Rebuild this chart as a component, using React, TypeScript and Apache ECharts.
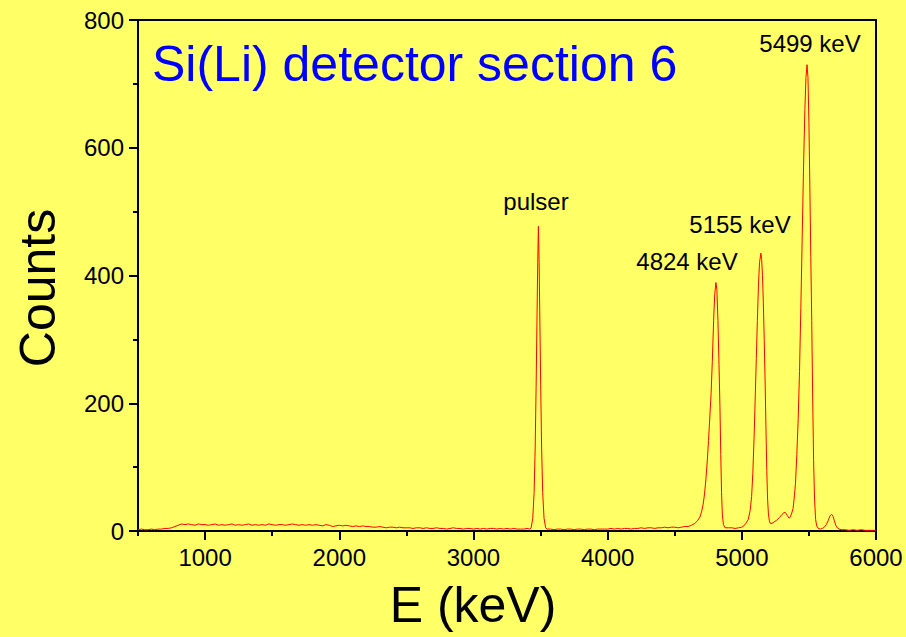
import React, { useEffect, useRef } from 'react';
import * as echarts from 'echarts';

// Spectrum: [energy keV, counts]
const continuumLow: [number, number][] = [
  [500, 2], [525, 3], [550, 2], [575, 2], [600, 3], [625, 2], [650, 3], [675, 3], [700, 4], [725, 4],
  [750, 5], [775, 7], [800, 9], [825, 11], [850, 10], [875, 11], [900, 10], [925, 9], [950, 11], [975, 10],
  [1000, 10], [1025, 9], [1050, 10], [1075, 11], [1100, 9], [1125, 10], [1150, 9], [1175, 10], [1200, 11], [1225, 9],
  [1250, 10], [1275, 9], [1300, 10], [1325, 11], [1350, 9], [1375, 10], [1400, 9], [1425, 10], [1450, 9], [1475, 11],
  [1500, 10], [1525, 9], [1550, 10], [1575, 10], [1600, 9], [1625, 10], [1650, 11], [1675, 10], [1700, 9], [1725, 10],
  [1750, 9], [1775, 10], [1800, 9], [1825, 10], [1850, 9], [1875, 8], [1900, 10], [1925, 9], [1950, 7], [1975, 8],
  [2000, 9], [2025, 8], [2050, 9], [2075, 8], [2100, 7], [2125, 8], [2150, 7], [2175, 8], [2200, 7], [2225, 7],
  [2250, 6], [2275, 6], [2300, 7], [2325, 6], [2350, 5], [2375, 6], [2400, 6], [2425, 5], [2450, 6], [2475, 5],
  [2500, 5], [2525, 5], [2550, 4], [2575, 5], [2600, 5], [2625, 4], [2650, 5], [2675, 4], [2700, 4], [2725, 5],
  [2750, 4], [2775, 4], [2800, 3], [2825, 4], [2850, 5], [2875, 4], [2900, 4], [2925, 3], [2950, 4], [2975, 4],
  [3000, 3], [3025, 4], [3050, 3], [3075, 4], [3100, 3], [3125, 4], [3150, 4], [3175, 3], [3200, 4], [3225, 3],
  [3250, 4], [3275, 3], [3300, 4], [3325, 3], [3350, 3], [3375, 3], [3400, 4]
];

const pulserPeak: [number, number][] = [
  [3420, 3], [3430, 5], [3442, 20], [3452, 60], [3460, 130], [3467, 225], [3474, 340], [3479, 420],
  [3484, 477], [3489, 425], [3494, 345], [3501, 230], [3508, 130], [3516, 60], [3526, 20], [3538, 5], [3550, 3]
];

const midContinuum: [number, number][] = [
  [3575, 3], [3600, 2], [3625, 3], [3650, 3], [3675, 2], [3700, 3], [3725, 3], [3750, 2], [3775, 3], [3800, 3],
  [3825, 2], [3850, 3], [3875, 3], [3900, 2], [3925, 3], [3950, 3], [3975, 3], [4000, 3], [4025, 4], [4050, 3],
  [4075, 4], [4100, 3], [4125, 4], [4150, 4], [4175, 3], [4200, 4], [4225, 4], [4250, 5], [4275, 4], [4300, 5],
  [4325, 5], [4350, 4], [4375, 5], [4400, 5], [4425, 6], [4450, 5], [4475, 6], [4500, 6], [4525, 5], [4550, 6],
  [4575, 7], [4600, 7]
];

const peak4824: [number, number][] = [
  [4625, 9], [4650, 12], [4670, 16], [4688, 22], [4700, 30], [4712, 42], [4722, 58], [4732, 80], [4742, 108],
  [4752, 142], [4762, 180], [4771, 215], [4780, 265], [4790, 330], [4798, 370], [4807, 389], [4814, 378],
  [4822, 330], [4830, 260], [4837, 195], [4843, 120], [4849, 60], [4855, 25], [4863, 10], [4875, 5]
];

const peak5155: [number, number][] = [
  [4900, 5], [4925, 5], [4950, 4], [4975, 5], [5000, 6], [5015, 8], [5030, 12], [5048, 18], [5062, 32],
  [5073, 54], [5082, 90], [5092, 150], [5100, 210], [5108, 270], [5116, 330], [5124, 385], [5132, 420],
  [5142, 435], [5148, 425], [5154, 400], [5160, 360], [5167, 300], [5174, 230], [5180, 160], [5186, 95],
  [5192, 50], [5198, 28], [5205, 16], [5212, 12], [5225, 12], [5240, 14], [5260, 17], [5280, 21], [5300, 26],
  [5315, 29], [5325, 29], [5340, 24], [5352, 20], [5362, 22], [5372, 28], [5382, 35]
];

const peak5499: [number, number][] = [
  [5392, 55], [5400, 75], [5410, 120], [5420, 175], [5430, 250], [5440, 350], [5450, 460], [5460, 570],
  [5470, 660], [5478, 710], [5486, 730], [5493, 710], [5500, 640], [5507, 540], [5514, 430], [5521, 330],
  [5528, 210], [5535, 110], [5542, 50], [5550, 18], [5558, 8], [5570, 4], [5585, 3]
];

const satellitePeak: [number, number][] = [
  [5600, 4], [5615, 6], [5630, 10], [5645, 17], [5658, 24], [5670, 26], [5680, 23], [5690, 16], [5700, 9],
  [5712, 5], [5725, 3], [5740, 2], [5770, 2], [5800, 1], [5830, 2], [5860, 1], [5890, 2], [5920, 1],
  [5950, 1], [5980, 1], [6000, 1]
];

const xMajorTicks = [1000, 2000, 3000, 4000, 5000, 6000];
const titleText = 'Si(Li) detector section 6';
const xAxisName = 'E (keV)';
const yAxisName = 'Counts';
const peakLabels = ['pulser', '4824 keV', '5155 keV', '5499 keV'];

export default function App() {
  const ref = useRef<HTMLDivElement>(null);

  useEffect(() => {
    if (!ref.current) return;
    const chart = echarts.init(ref.current, null, { renderer: 'svg' });
    const spectrum = [
      ...continuumLow, ...pulserPeak, ...midContinuum, ...peak4824,
      ...peak5155, ...peak5499, ...satellitePeak
    ];
    const font = '"Liberation Sans", Arial, sans-serif';
    const black = '#000000';
    const labelPos = [
      [536, 201], [687, 261], [740, 224], [810, 43]
    ];

    chart.setOption({
      animation: false,
      backgroundColor: '#ffff66',
      grid: {
        left: 138, right: 30, top: 20, bottom: 106,
        show: true, borderColor: black, borderWidth: 2, backgroundColor: 'transparent'
      },
      xAxis: [
        {
          type: 'value', min: 500, max: 6000, interval: 500, position: 'bottom',
          axisLine: { show: true, onZero: false, lineStyle: { color: black, width: 2 } },
          axisTick: { show: true, inside: false, length: 5, lineStyle: { color: black, width: 2 } },
          axisLabel: {
            show: true, margin: 14, fontSize: 24, color: black, fontFamily: font,
            formatter: (v: number) => (v % 1000 === 0 ? String(v) : '')
          },
          splitLine: { show: false }
        },
        {
          type: 'value', min: 500, max: 6000, position: 'bottom', gridIndex: 0,
          axisLine: { show: false },
          axisTick: { show: true, customValues: xMajorTicks, length: 9, lineStyle: { color: black, width: 2 } },
          axisLabel: { show: false },
          splitLine: { show: false }
        }
      ],
      yAxis: {
        type: 'value', min: 0, max: 800, interval: 200,
        axisLine: { show: true, lineStyle: { color: black, width: 2 } },
        axisTick: { show: true, length: 9, lineStyle: { color: black, width: 2 } },
        minorTick: { show: true, splitNumber: 2, length: 5, lineStyle: { color: black, width: 2 } },
        axisLabel: { margin: 14, fontSize: 24, color: black, fontFamily: font },
        splitLine: { show: false },
        minorSplitLine: { show: false }
      },
      series: [
        {
          type: 'line',
          xAxisIndex: 0,
          data: spectrum,
          showSymbol: false,
          symbol: 'none',
          lineStyle: { color: '#ff0000', width: 1 },
          clip: true,
          z: 3
        }
      ],
      graphic: [
        {
          type: 'text', x: 152, y: 64,
          style: { text: titleText, fontSize: 50, fontFamily: font, fill: '#0000ff', align: 'left', verticalAlign: 'middle' }
        },
        {
          type: 'text', x: 38, y: 288, rotation: Math.PI / 2,
          style: { text: yAxisName, fontSize: 50, fontFamily: font, fill: black, align: 'center', verticalAlign: 'middle' }
        },
        {
          type: 'text', x: 473, y: 605,
          style: { text: xAxisName, fontSize: 50, fontFamily: font, fill: black, align: 'center', verticalAlign: 'middle' }
        },
        ...peakLabels.map((t, i) => ({
          type: 'text', x: labelPos[i][0], y: labelPos[i][1],
          style: { text: t, fontSize: 24, fontFamily: font, fill: black, align: 'center', verticalAlign: 'middle' }
        }))
      ]
    });

    return () => chart.dispose();
  }, []);

  return <div ref={ref} style={{ position: 'fixed', left: 0, top: 0, width: 906, height: 637 }} />;
}
